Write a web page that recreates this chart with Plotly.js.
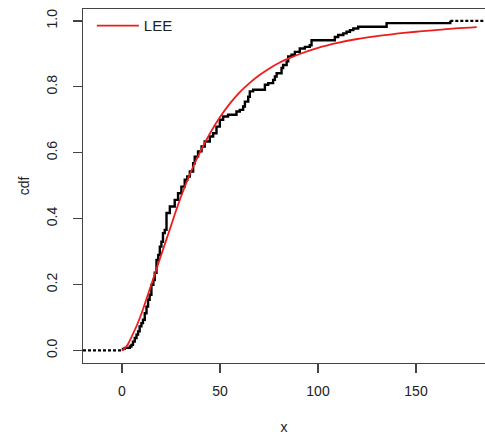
<!DOCTYPE html>
<html>
<head>
<meta charset="utf-8">
<script src="https://cdn.plot.ly/plotly-3.0.1.min.js"></script>
<style>html,body{margin:0;padding:0;background:#fff;}#chart{width:485px;height:436px;}</style>
</head>
<body>
<div id="chart"></div>
<script>
// Empirical CDF: x position of each jump and the cdf level reached after it
const ecdfJumpX = [0.5, 1.4, 4.0, 4.8, 5.6, 6.5, 7.4, 8.2, 9.0, 9.9, 10.7, 11.6, 12.5, 13.3, 14.1, 15.0, 16.0, 16.7, 17.6, 18.5, 19.3, 20.1, 20.9, 21.8, 22.7, 24.4, 26.9, 28.6, 30.3, 32.0, 33.3, 34.6, 36.3, 37.1, 38.8, 40.6, 42.2, 44.8, 46.5, 48.2, 49.9, 51.6, 54.1, 58.4, 60.1, 61.8, 62.7, 64.4, 65.2, 66.9, 72.9, 74.6, 77.1, 78.0, 78.9, 81.4, 82.2, 84.0, 84.8, 86.5, 88.2, 90.7, 93.3, 95.8, 96.7, 108.6, 110.3, 112.9, 114.6, 116.3, 118.0, 120.5, 135.0, 167.5];
const ecdfLevel = [0.005, 0.008, 0.012, 0.017, 0.027, 0.038, 0.048, 0.058, 0.073, 0.083, 0.093, 0.113, 0.133, 0.154, 0.169, 0.199, 0.214, 0.236, 0.275, 0.29, 0.315, 0.33, 0.356, 0.366, 0.417, 0.437, 0.457, 0.477, 0.497, 0.518, 0.528, 0.543, 0.568, 0.588, 0.604, 0.619, 0.634, 0.649, 0.659, 0.679, 0.70, 0.71, 0.715, 0.725, 0.73, 0.74, 0.755, 0.77, 0.786, 0.791, 0.806, 0.811, 0.821, 0.831, 0.841, 0.857, 0.866, 0.877, 0.892, 0.897, 0.906, 0.916, 0.921, 0.926, 0.941, 0.951, 0.957, 0.962, 0.967, 0.972, 0.977, 0.982, 0.993, 1.0];

// Fitted LEE cdf
const leeX = [0, 2.5, 5, 7.5, 10, 12.5, 15, 17.5, 20, 22.5, 25, 27.5, 30, 35, 40, 45, 50, 55, 60, 65, 70, 75, 80, 85, 90, 100, 110, 120, 130, 140, 150, 160, 170, 181];
const leeY = [0, 0.014, 0.043, 0.075, 0.113, 0.157, 0.201, 0.245, 0.29, 0.334, 0.378, 0.423, 0.465, 0.54, 0.604, 0.66, 0.708, 0.749, 0.783, 0.811, 0.835, 0.855, 0.872, 0.886, 0.898, 0.918, 0.933, 0.945, 0.954, 0.961, 0.967, 0.972, 0.977, 0.981];

const xTicks = [0, 50, 100, 150];
const yTicks = [0, 0.2, 0.4, 0.6, 0.8, 1.0];
const xRange = [-19.9, 185.2];
const yRange = [-0.038, 1.036];

const stepX = [ecdfJumpX[0]].concat(ecdfJumpX);
const stepY = [0].concat(ecdfLevel);
const last = ecdfJumpX.length - 1;

const font = 'Liberation Sans, Arial, sans-serif';
const traces = [
  {x: [xRange[0], ecdfJumpX[0]], y: [0, 0], mode: 'lines', line: {color: '#000', width: 2.2, dash: '3px,2px'}, showlegend: false, hoverinfo: 'skip'},
  {x: stepX, y: stepY, mode: 'lines', line: {color: '#000', width: 2.4, shape: 'hv'}, showlegend: false},
  {x: [ecdfJumpX[last], xRange[1]], y: [ecdfLevel[last], ecdfLevel[last]], mode: 'lines', line: {color: '#000', width: 2.2, dash: '3px,2px'}, showlegend: false, hoverinfo: 'skip'},
  {x: leeX, y: leeY, mode: 'lines', name: 'LEE', line: {color: '#ee1c1c', width: 1.8, shape: 'spline'}}
];

const layout = {
  width: 485, height: 436,
  margin: {l: 83, r: 0, t: 9, b: 73},
  paper_bgcolor: '#fff', plot_bgcolor: '#fff',
  font: {family: font, size: 14, color: '#222'},
  showlegend: true,
  legend: {x: 0.022, y: 0.999, xanchor: 'left', yanchor: 'top', itemwidth: 42, bgcolor: 'rgba(0,0,0,0)', borderwidth: 0, font: {family: font, size: 15, color: '#222'}},
  xaxis: {
    range: xRange, tickvals: xTicks, ticktext: xTicks.map(String),
    showgrid: false, zeroline: false, showline: true, mirror: true, linecolor: '#444', linewidth: 1.3,
    ticks: 'outside', ticklen: 9, tickwidth: 1.3, tickcolor: '#444', ticklabelstandoff: 6,
    tickfont: {family: font, size: 14, color: '#222'},
    title: {text: 'x', font: {family: font, size: 14, color: '#222'}, standoff: 24}
  },
  yaxis: {
    range: yRange, tickvals: yTicks, ticktext: yTicks.map(v => v.toFixed(1)), tickangle: -90,
    showgrid: false, zeroline: false, showline: true, mirror: false, linecolor: '#444', linewidth: 1.3,
    ticks: 'outside', ticklen: 9, tickwidth: 1.3, tickcolor: '#444', ticklabelstandoff: 10,
    tickfont: {family: font, size: 14, color: '#222'},
    title: {text: 'cdf', font: {family: font, size: 14, color: '#222'}, standoff: 11}
  }
};

Plotly.newPlot('chart', traces, layout, {displayModeBar: false, staticPlot: true});
</script>
</body>
</html>
